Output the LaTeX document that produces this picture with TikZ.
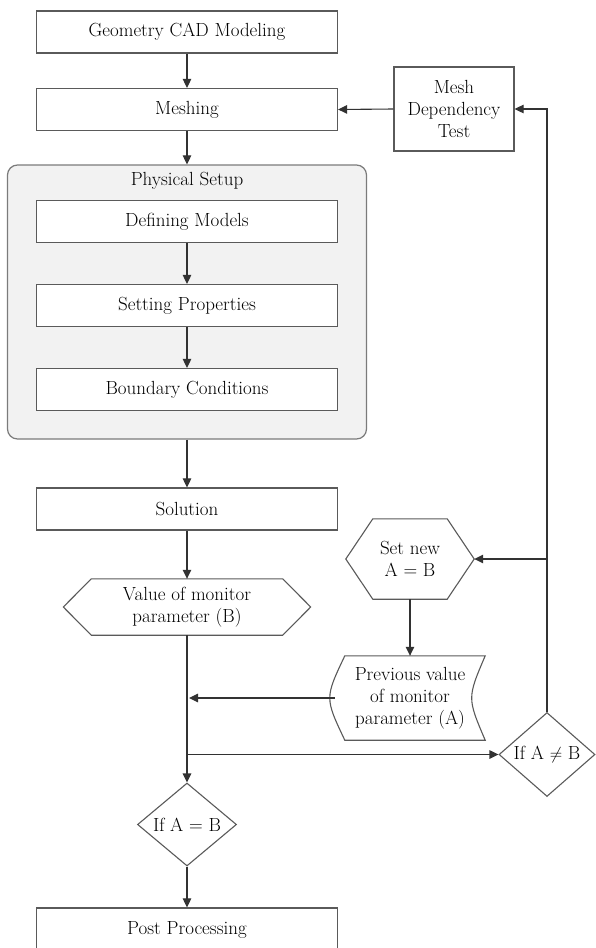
\documentclass[tikz,border=0pt]{standalone}
\usepackage{xcolor}
\usetikzlibrary{arrows.meta,positioning,shapes.geometric}
\definecolor{boxLine}{RGB}{90,90,90}
\definecolor{flowLine}{RGB}{50,50,50}
\definecolor{setupFill}{RGB}{242,242,242}

\begin{document}
\begin{tikzpicture}[x=1pt,y=-1pt,>={Triangle[length=9pt,width=8.5pt]},
  every node/.style={font=\fontsize{19}{22}\selectfont,text=black,align=center,inner sep=0pt},
  stepbox/.style={draw=boxLine,line width=1.2pt,fill=white,minimum width=301pt,minimum height=42pt},
  blankbox/.style={minimum width=#1},
  decision/.style={diamond,draw=boxLine,line width=1.1pt,fill=white,aspect=1.15},
  outline/.style={draw=boxLine,line width=1.1pt,fill=white,line join=miter},
  link/.style={->,line width=1.1pt,draw=flowLine}]
  \useasboundingbox (0,0) rectangle (595,948);

  \node[stepbox] (geo) at (187,32) {Geometry CAD Modeling};
  \node[stepbox] (mesh) at (187,109.5) {Meshing};
  \node[stepbox,minimum width=120pt,minimum height=84pt] (dep) at (454,109) {Mesh\\Dependency\\Test};

  \node[draw=boxLine!80,line width=1.2pt,fill=setupFill,rounded corners=10pt,
        minimum width=359pt,minimum height=274pt] (setup) at (187,302) {};
  \node (setupTitle) at (187,181) {Physical Setup};
  \node[stepbox] (models) at (187,221.5) {Defining Models};
  \node[stepbox] (props) at (187,305.5) {Setting Properties};
  \node[stepbox] (bound) at (187,389.5) {Boundary Conditions};

  \node[stepbox] (sol) at (187,509) {Solution};
  \node[stepbox,minimum height=44pt] (post) at (187,930) {Post Processing};

  \node[blankbox=247pt,minimum height=56pt] (valB) at (187,607) {};
  \node[blankbox=128pt,minimum height=80pt] (setNew) at (410,559) {};
  \foreach \n/\c in {valB/28,setNew/27}{
    \draw[outline] (\n.west) -- ([xshift=\c pt]\n.north west) -- ([xshift=-\c pt]\n.north east)
      -- (\n.east) -- ([xshift=-\c pt]\n.south east) -- ([xshift=\c pt]\n.south west) -- cycle;
  }
  \node (valBText) at (valB) {Value of monitor\\parameter (B)};
  \node (setNewText) at (setNew) {Set new\\A = B};

  \node[blankbox=130pt,minimum height=84pt] (prevA) at (410,698) {};
  \draw[outline] (prevA.north west) -- ([xshift=10pt]prevA.north east)
    .. controls ([xshift=-8pt]prevA.east) .. ([xshift=10pt]prevA.south east)
    -- (prevA.south west) .. controls ([xshift=-20pt]prevA.west) .. (prevA.north west) -- cycle;
  \node (prevAText) at (prevA) {Previous value\\of monitor\\parameter (A)};

  \node[decision,minimum width=96pt,minimum height=84pt] (neq) at (547,754.5) {If A $\neq$ B};
  \node[decision,minimum width=99pt,minimum height=83pt] (eq) at (187,824.5) {If A = B};

  \coordinate (joinA) at (valB.south |- prevA.west);
  \coordinate (joinB) at (valB.south |- neq.west);
  \coordinate (joinC) at (neq.north |- setNew.east);

  \draw[link] (geo) -- (mesh);
  \draw[link] (mesh) -- (setup.north);
  \draw[link] (models) -- (props);
  \draw[link] (props) -- (bound);
  \draw[link] (setup.south) -- (sol);
  \draw[link] (sol) -- (valB.north);
  \draw[link] (valB.south) -- (eq.north);
  \draw[link] ([xshift=-10pt]prevA.west) -- ([xshift=2pt]joinA);
  \draw[link] (joinB) -- (neq.west);
  \draw[link] (neq.north) |- (dep.east);
  \draw[link] (joinC) -- (setNew.east);
  \draw[link] (setNew.south) -- (prevA.north);
  \draw[link] (dep.west) -- (mesh.east);
  \draw[link] (eq.south) -- (post.north);
\end{tikzpicture}
\end{document}
